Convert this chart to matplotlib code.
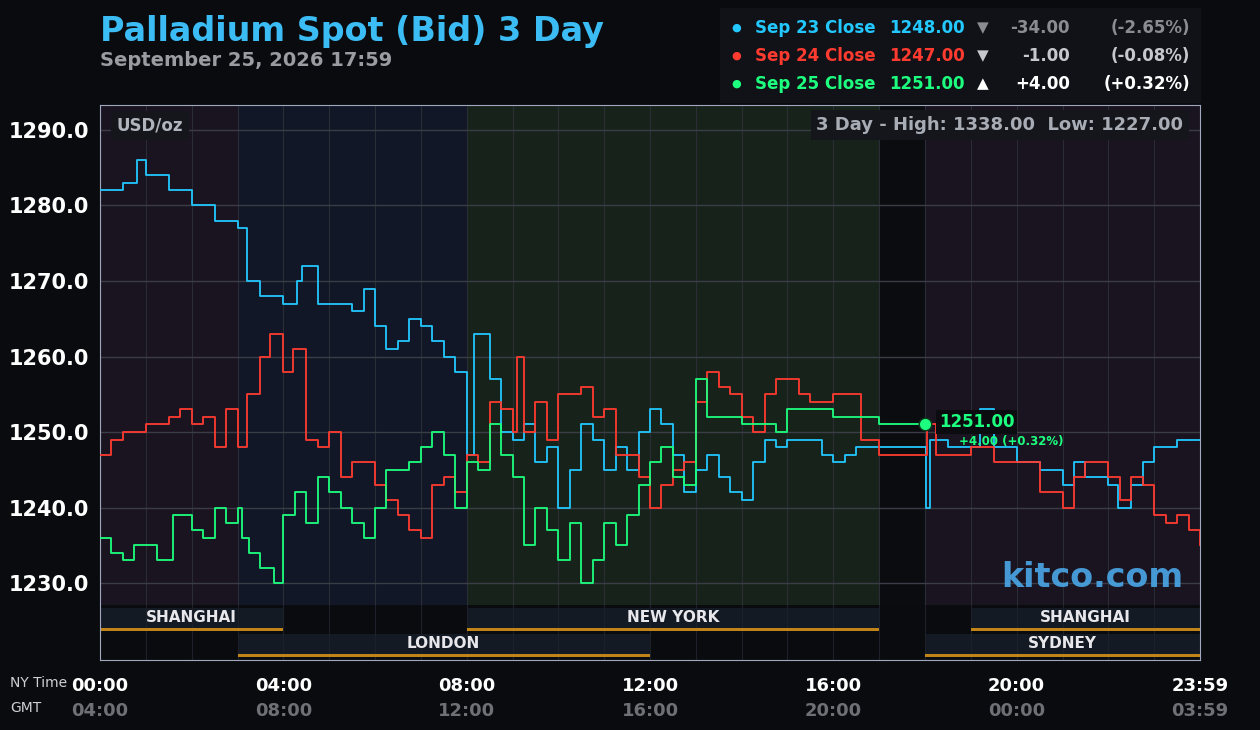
import matplotlib.pyplot as plt
from matplotlib.patches import Rectangle

BG = '#0a0b0e'
BLUE = '#22c8ff'
RED = '#ff3b30'
GREEN = '#1dff7e'

# hours (NY time) and prices
sep23_t = [0, 0.5, 0.8, 1.0, 1.5, 2.0, 2.5, 3.0, 3.2, 3.5, 4.0, 4.3, 4.4, 4.75, 5.0, 5.5, 5.75, 6.0, 6.25,
           6.5, 6.75, 7.0, 7.25, 7.5, 7.75, 8.0, 8.15, 8.5, 8.75, 9.0, 9.25, 9.5, 9.75, 10.0, 10.25, 10.5,
           10.75, 11.0, 11.25, 11.5, 11.75, 12.0, 12.25, 12.5, 12.75, 13.0, 13.25, 13.5, 13.75, 14.0, 14.25,
           14.5, 14.75, 15.0, 15.5, 15.75, 16.0, 16.25, 16.5, 17.0, 18.0, 18.02, 18.1, 18.5, 19.0, 19.2,
           19.5, 20.0, 20.5, 21.0, 21.25, 21.5, 22.0, 22.2, 22.5, 22.75, 23.0, 23.5, 24.0]
sep23_v = [1282, 1283, 1286, 1284, 1282, 1280, 1278, 1277, 1270, 1268, 1267, 1270, 1272, 1267, 1267, 1266,
           1269, 1264, 1261, 1262, 1265, 1264, 1262, 1260, 1258, 1247, 1263, 1257, 1250, 1249, 1251, 1246,
           1248, 1240, 1245, 1251, 1249, 1245, 1248, 1245, 1250, 1253, 1251, 1247, 1242, 1245, 1247, 1244,
           1242, 1241, 1246, 1249, 1248, 1249, 1249, 1247, 1246, 1247, 1248, 1248, 1248, 1240, 1249, 1248,
           1248, 1253, 1248, 1246, 1245, 1243, 1246, 1244, 1243, 1240, 1243, 1246, 1248, 1249, 1249]

sep24_t = [0, 0.25, 0.5, 0.75, 1.0, 1.5, 1.75, 2.0, 2.25, 2.5, 2.75, 3.0, 3.2, 3.5, 3.7, 4.0, 4.2, 4.5,
           4.75, 5.0, 5.25, 5.5, 6.0, 6.25, 6.5, 6.75, 7.0, 7.25, 7.5, 7.75, 8.0, 8.25, 8.5, 8.75, 9.0, 9.1,
           9.25, 9.5, 9.75, 10.0, 10.25, 10.5, 10.75, 11.0, 11.25, 11.5, 11.75, 12.0, 12.25, 12.5, 12.75,
           13.0, 13.25, 13.5, 13.75, 14.0, 14.25, 14.5, 14.75, 15.0, 15.25, 15.5, 16.0, 16.5, 16.6, 17.0,
           18.0, 18.05, 18.25, 18.5, 19.0, 19.5, 20.0, 20.5, 21.0, 21.25, 21.5, 22.0, 22.25, 22.5, 22.75,
           23.0, 23.25, 23.5, 23.75, 24.0]
sep24_v = [1247, 1249, 1250, 1250, 1251, 1252, 1253, 1251, 1252, 1248, 1253, 1248, 1255, 1260, 1263, 1258,
           1261, 1249, 1248, 1250, 1244, 1246, 1243, 1241, 1239, 1237, 1236, 1243, 1244, 1242, 1247, 1246,
           1254, 1253, 1250, 1260, 1250, 1254, 1249, 1255, 1255, 1256, 1252, 1253, 1247, 1247, 1244, 1240,
           1243, 1245, 1246, 1254, 1258, 1256, 1255, 1252, 1250, 1255, 1257, 1257, 1255, 1254, 1255, 1255,
           1249, 1247, 1247, 1251, 1247, 1247, 1248, 1246, 1246, 1242, 1240, 1244, 1246, 1244, 1241, 1244,
           1243, 1239, 1238, 1239, 1237, 1235]

sep25_t = [0, 0.25, 0.5, 0.75, 1.0, 1.25, 1.5, 1.6, 2.0, 2.25, 2.5, 2.75, 3.0, 3.1, 3.25, 3.5, 3.75, 3.8,
           4.0, 4.25, 4.5, 4.75, 5.0, 5.25, 5.5, 5.75, 6.0, 6.25, 6.5, 6.75, 7.0, 7.25, 7.5, 7.75, 8.0, 8.25,
           8.5, 8.75, 9.0, 9.25, 9.5, 9.75, 10.0, 10.25, 10.5, 10.75, 11.0, 11.25, 11.5, 11.75, 12.0, 12.25,
           12.5, 12.75, 13.0, 13.25, 13.5, 14.0, 14.5, 14.75, 15.0, 15.5, 16.0, 16.5, 17.0, 18.0]
sep25_v = [1236, 1234, 1233, 1235, 1235, 1233, 1233, 1239, 1237, 1236, 1240, 1238, 1240, 1236, 1234, 1232,
           1232, 1230, 1239, 1242, 1238, 1244, 1242, 1240, 1238, 1236, 1240, 1245, 1245, 1246, 1248, 1250,
           1247, 1240, 1246, 1245, 1251, 1247, 1244, 1235, 1240, 1237, 1233, 1238, 1230, 1233, 1238, 1235,
           1239, 1243, 1246, 1248, 1244, 1243, 1257, 1252, 1252, 1251, 1251, 1250, 1253, 1253, 1252, 1252,
           1251, 1251]

# background regions: (start, end, colour)
regions = [(0, 3, '#1a1320'), (3, 8, '#111726'), (8, 17, '#17231a'), (17, 18, '#0b0c10'), (18, 24, '#1a1320')]
# sessions: (name, start, end, row)
sessions = [('SHANGHAI', 0, 4, 0), ('NEW YORK', 8, 17, 0), ('SHANGHAI', 19, 24, 0),
            ('LONDON', 3, 12, 1), ('SYDNEY', 18, 24, 1)]
ny_labels = ['00:00', '04:00', '08:00', '12:00', '16:00', '20:00', '23:59']
gmt_labels = ['04:00', '08:00', '12:00', '16:00', '20:00', '00:00', '03:59']

fig = plt.figure(figsize=(12.6, 7.3), dpi=100, facecolor=BG)
W, H = 1260, 730
ax = fig.add_axes([100 / W, 1 - 605 / H, 1100 / W, 500 / H])
sx = fig.add_axes([100 / W, 1 - 660 / H, 1100 / W, 55 / H], sharex=ax)

ax.set_facecolor(BG)
for a, b, c in regions:
    ax.axvspan(a, b, color=c, zorder=0, lw=0)
ax.set_xlim(0, 24)
ax.set_ylim(1227.1, 1293.3)
ax.set_yticks([1230, 1240, 1250, 1260, 1270, 1280, 1290])
ax.set_yticklabels(['%.1f' % v for v in ax.get_yticks()], color='white', fontsize=15, fontweight='bold')
ax.tick_params(axis='y', length=0, pad=8)
ax.tick_params(axis='x', length=0, labelbottom=False)
ax.set_xticks(range(25))
ax.grid(axis='y', color='#3a3d45', lw=1)
ax.grid(axis='x', color='#2a2d35', lw=0.8)
for s in ax.spines.values():
    s.set_visible(False)
ax.spines['top'].set_visible(True)
ax.spines['top'].set_color('#a0a8c0')
for side in ('left', 'right'):
    ax.spines[side].set_visible(True)
    ax.spines[side].set_color('#a0a8c0')

ax.plot(sep23_t, sep23_v, color=BLUE, lw=1.3, drawstyle='steps-post', zorder=3)
ax.plot(sep24_t, sep24_v, color=RED, lw=1.3, drawstyle='steps-post', zorder=3)
ax.plot(sep25_t, sep25_v, color=GREEN, lw=1.3, drawstyle='steps-post', zorder=4)
ax.plot([sep25_t[-1]], [sep25_v[-1]], 'o', color=GREEN, ms=9, mec='#0a3a1a', zorder=5)
ax.text(18.3, 1251.3, '1251.00', color=GREEN, fontsize=12, fontweight='bold', va='center',
        bbox=dict(fc='#0b0c10', ec='none', pad=2), zorder=6)
ax.text(18.75, 1248.8, '+4.00 (+0.32%)', color=GREEN, fontsize=8.5, fontweight='bold', va='center', zorder=6)

ax.text(0.015, 0.96, 'USD/oz', transform=ax.transAxes, color='#b0b4bc', fontsize=12, fontweight='bold',
        va='center', bbox=dict(fc='#15161c', ec='none', pad=4))
ax.text(0.985, 0.96, '3 Day - High: 1338.00  Low: 1227.00', transform=ax.transAxes, ha='right', va='center',
        color='#a8acb4', fontsize=13, fontweight='bold', bbox=dict(fc='#15161c', ec='none', pad=4))
ax.text(0.985, 0.055, 'kitco.com', transform=ax.transAxes, ha='right', va='center', color='#4aa8e8',
        fontsize=24, fontweight='bold', alpha=0.9)

# sessions strip
sx.set_facecolor(BG)
sx.set_ylim(0, 2)
sx.set_yticks([])
sx.set_xticks(range(25))
sx.grid(axis='x', color='#1d2028', lw=0.8)
sx.tick_params(axis='x', length=0, labelbottom=False)
for s in sx.spines.values():
    s.set_color('#a0a8c0')
sx.spines['top'].set_visible(False)
for name, a, b, row in sessions:
    y0 = 1.05 if row == 0 else 0.1
    sx.add_patch(Rectangle((a, y0), b - a, 0.85, color='#141a24', zorder=1, lw=0))
    sx.add_patch(Rectangle((a, y0), b - a, 0.13, color='#c08418', zorder=2, lw=0))
    sx.text((a + b) / 2, y0 + 0.5, name, color='#e8e8ec', fontsize=11, fontweight='bold',
            ha='center', va='center', zorder=3)

# time labels
for i, (ny, gmt) in enumerate(zip(ny_labels, gmt_labels)):
    x = (100 + i * 1100 / 6) / W
    fig.text(x, 1 - 686 / H, ny, color='white', fontsize=13, fontweight='bold', ha='center', va='center')
    fig.text(x, 1 - 711 / H, gmt, color='#6e7075', fontsize=13, fontweight='bold', ha='center', va='center')
fig.text(10 / W, 1 - 683 / H, 'NY Time', color='#d0d0d4', fontsize=10, va='center')
fig.text(10 / W, 1 - 708 / H, 'GMT', color='#d0d0d4', fontsize=10, va='center')

# header
fig.text(100 / W, 1 - 31 / H, 'Palladium Spot (Bid) 3 Day', color='#3cbcf4', fontsize=24, fontweight='bold',
         va='center')
fig.text(100 / W, 1 - 60 / H, 'September 25, 2026 17:59', color='#9a9ca2', fontsize=14, fontweight='bold',
         va='center')
fig.patches.append(Rectangle((720 / W, 1 - 102 / H), 480 / W, 94 / H, transform=fig.transFigure,
                             color='#111217', zorder=0))
legend_rows = [('Sep 23 Close', '1248.00', '\u25bc', '-34.00', '(-2.65%)', BLUE, '#8a8c92'),
               ('Sep 24 Close', '1247.00', '\u25bc', '-1.00', '(-0.08%)', RED, '#c8c8cc'),
               ('Sep 25 Close', '1251.00', '\u25b2', '+4.00', '(+0.32%)', GREEN, 'white')]
for i, (lab, val, arr, chg, pct, c, c2) in enumerate(legend_rows):
    y = 1 - (28 + i * 28) / H
    fig.text(736 / W, y, '\u25cf', color=c, fontsize=8, va='center', ha='center')
    fig.text(755 / W, y, lab, color=c, fontsize=12, fontweight='bold', va='center')
    fig.text(965 / W, y, val, color=c, fontsize=12, fontweight='bold', va='center', ha='right')
    fig.text(983 / W, y, arr, color=c2, fontsize=11, va='center', ha='center')
    fig.text(1070 / W, y, chg, color=c2, fontsize=12, fontweight='bold', va='center', ha='right')
    fig.text(1190 / W, y, pct, color=c2, fontsize=12, fontweight='bold', va='center', ha='right')

fig.savefig('out.png', dpi=100, facecolor=BG)
